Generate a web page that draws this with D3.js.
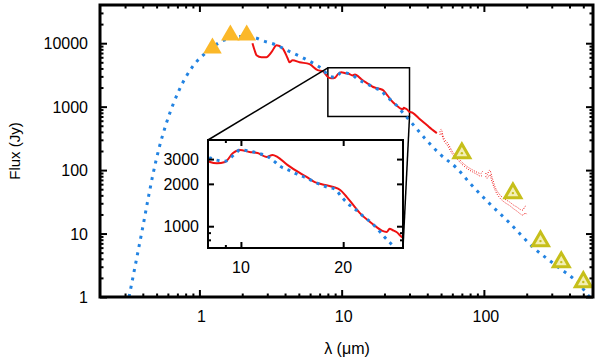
<!DOCTYPE html>
<html>
<head>
<meta charset="utf-8">
<script src="https://cdn.jsdelivr.net/npm/d3@7"></script>
<style>
  body { margin: 0; background: #fff; }
  text { font-family: "Liberation Sans", Arial, sans-serif; fill: #000; }
  .axis path { display: none; }
  .axis line { stroke: #000; stroke-width: 2; }
</style>
</head>
<body>
<svg id="chart"></svg>
<script>
// ---- data ----
// dotted blue model SED (wavelength um, flux Jy)
const modelWave = [0.32, 0.36, 0.40, 0.445, 0.47, 0.52, 0.586, 0.72, 0.89, 1.12, 1.55, 2.0, 2.52, 2.73, 3.49, 4.1, 5.23, 6.67, 7.35,
  8.11, 8.98, 9.6, 9.93, 10.6, 11.2, 11.9, 12.6, 13.0, 13.8, 14.6, 15.6, 16.7, 17.9, 18.9, 19.8, 20.7, 21.7, 22.9, 24.3, 25.7, 26.5, 27.9,
  31.6, 38.4, 49, 64.5, 79.7, 107, 152, 221, 332, 474, 540, 600];
const modelFlux = [1, 3.8, 12.7, 45, 83, 220, 550, 1820, 4190, 7210, 11560, 12800, 12000, 11150, 9300, 7760, 6030, 4500, 3900,
  3056, 2900, 3260, 3480, 3420, 3310, 3160, 2860, 2680, 2510, 2350, 2200, 2030, 1900, 1840, 1610, 1440, 1320, 1180, 1050, 910, 836, 735,
  530, 319, 179, 107, 62.4, 31.3, 14.6, 6.13, 2.97, 1.55, 1.07, 0.85];

// red spectrum (thick part)
const specWave = [2.36, 2.45, 2.52, 2.73, 2.96, 3.21, 3.49, 3.84, 4.17, 4.30, 4.52, 5.06, 5.95, 6.78, 7.35,
  8.11, 8.5, 8.98, 9.48, 9.93, 10.6, 11.2, 11.9, 12.4, 12.8, 13.7, 14.9, 15.6, 16.5, 17.3, 18.7, 19.6, 20.5, 21.4, 22.4,
  24.0, 25.1, 26.0, 26.9, 27.4, 27.9, 28.7, 29.8, 31.6, 35, 39.7, 43, 46.7];
const specFlux = [10000, 7600, 6470, 6020, 6020, 7210, 9300, 8340, 5800, 5020, 5400, 5020, 4670, 3760, 3630,
  2860, 2800, 2860, 3310, 3480, 3370, 3310, 3110, 3210, 3110, 2730, 2390, 2240, 2060, 1990, 1900, 1810, 1610, 1420, 1240,
  1070, 985, 930, 910, 960, 940, 910, 836, 800, 650, 512, 440, 383];

// red noisy far-IR spectra (thin): upper and lower edges of the scatter
const pacsWaveA = [49, 50, 52, 55.7, 60.5, 65, 70, 77, 83.7, 90, 95, 98];
const pacsFluxA = [395, 440, 330, 266, 192, 160, 134, 112, 100, 92, 88, 96];
const pacsFluxA2 = [360, 380, 300, 240, 175, 148, 124, 104, 93, 85, 80, 84];
const pacsWaveB = [103, 105, 108, 110, 114, 120, 130, 140, 152, 162, 171, 180, 188, 195, 200];
const pacsFluxB = [90, 83, 95, 100, 77.6, 54, 40.4, 35, 31.3, 28, 26.1, 24, 23.4, 27, 26];
const pacsFluxB2 = [80, 74, 80, 84, 66, 48, 36, 31, 27.5, 24.5, 22.5, 20.5, 19.5, 21, 20];

// photometry
const nirWave = [1.235, 1.65, 2.15];
const nirFlux = [8340, 13360, 13360];
const firWave = [70, 160, 250, 350, 500];
const firFlux = [185, 43.4, 7.6, 3.55, 1.72];

// ticks
const xTicks = [1, 10, 100];
const yTicks = [1, 10, 100, 1000, 10000];
const insetXTicks = [10, 20];
const insetYTicks = [1000, 2000, 3000];
const zoomWave = [8, 30];
const zoomFlux = [700, 4100];

// ---- layout ----
const w = 600, h = 358;
const mLeft = 100, mRight = 593, mTop = 5, mBottom = 297;
const inL = 208, inR = 403, inT = 140, inB = 248;

const svg = d3.select("#chart").attr("width", w).attr("height", h);

const x = d3.scaleLog().domain([0.2, 585]).range([mLeft, mRight]);
const y = d3.scaleLog().domain([1, 40000]).range([mBottom, mTop]);
const ix = d3.scaleLog().domain(zoomWave).range([inL, inR]);
const iy = d3.scaleLog().domain(zoomFlux).range([inB, inT]);

const defs = svg.append("defs");
defs.append("clipPath").attr("id", "clipMain").append("rect")
  .attr("x", mLeft).attr("y", mTop).attr("width", mRight - mLeft).attr("height", mBottom - mTop);
defs.append("clipPath").attr("id", "clipInset").append("rect")
  .attr("x", inL).attr("y", inT).attr("width", inR - inL).attr("height", inB - inT);

// minor log ticks between lo and hi
function minors(lo, hi) {
  const out = [];
  for (let d = Math.pow(10, Math.floor(Math.log10(lo))); d < hi; d *= 10) {
    for (let k = 2; k <= 9; k++) {
      const v = k * d;
      if (v > lo && v < hi) out.push(v);
    }
  }
  return out;
}

function frameAxes(g, xs, ys, xMaj, yMaj, xMin, yMin, majLen, minLen) {
  const [x0, x1] = xs.range();
  const [y0, y1] = ys.range();
  const sides = [
    [d3.axisBottom, xs, xMaj, xMin, `translate(0,${y0})`],
    [d3.axisTop, xs, xMaj, xMin, `translate(0,${y1})`],
    [d3.axisLeft, ys, yMaj, yMin, `translate(${x0},0)`],
    [d3.axisRight, ys, yMaj, yMin, `translate(${x1},0)`]
  ];
  sides.forEach(([ax, sc, maj, mn, tr]) => {
    g.append("g").attr("class", "axis").attr("transform", tr)
      .call(ax(sc).tickValues(maj).tickSize(-majLen).tickFormat(""));
    g.append("g").attr("class", "axis").attr("transform", tr)
      .call(ax(sc).tickValues(mn).tickSize(-minLen).tickFormat(""));
  });
}

const main = svg.append("g");

// zoom box
main.append("rect")
  .attr("x", x(zoomWave[0])).attr("y", y(zoomFlux[1]))
  .attr("width", x(zoomWave[1]) - x(zoomWave[0]))
  .attr("height", y(zoomFlux[0]) - y(zoomFlux[1]))
  .attr("fill", "none").attr("stroke", "#000").attr("stroke-width", 1.5);

const lineMain = d3.line().x(d => x(d[0])).y(d => y(d[1])).curve(d3.curveMonotoneX);

const plot = main.append("g").attr("clip-path", "url(#clipMain)");

// thin noisy far-IR spectra
[[pacsWaveA, pacsFluxA], [pacsWaveA, pacsFluxA2], [pacsWaveB, pacsFluxB], [pacsWaveB, pacsFluxB2]]
  .forEach(([wv, fl]) => {
    plot.append("path")
      .datum(wv.map((v, i) => [v, fl[i]]))
      .attr("d", lineMain).attr("fill", "none")
      .attr("stroke", "#ee1111").attr("stroke-width", 1).attr("stroke-dasharray", "1 1.5");
  });

plot.append("path")
  .datum(specWave.map((v, i) => [v, specFlux[i]]))
  .attr("d", lineMain).attr("fill", "none")
  .attr("stroke", "#ee1111").attr("stroke-width", 2);

plot.append("path")
  .datum(modelWave.map((v, i) => [v, modelFlux[i]]))
  .attr("d", lineMain).attr("fill", "none")
  .attr("stroke", "#2283e2").attr("stroke-width", 3).attr("stroke-dasharray", "3 5.5");

// photometry
const tri = d3.symbol().type(d3.symbolTriangle);
main.selectAll(".nir").data(nirWave).enter().append("path")
  .attr("transform", (d, i) => `translate(${x(d)},${y(nirFlux[i])})`)
  .attr("d", tri.size(150)()).attr("fill", "#fbb829");

main.selectAll(".fir").data(firWave).enter().append("path")
  .attr("transform", (d, i) => `translate(${x(d)},${y(firFlux[i])})`)
  .attr("d", tri.size(110)()).attr("fill", "#f3efb5")
  .attr("stroke", "#c6bf1a").attr("stroke-width", 3);
main.selectAll(".firdot").data(firWave).enter().append("circle")
  .attr("cx", d => x(d)).attr("cy", (d, i) => y(firFlux[i]))
  .attr("r", 1.2).attr("fill", "#c6bf1a");

// connectors
main.append("line")
  .attr("x1", x(zoomWave[0])).attr("y1", y(zoomFlux[1]))
  .attr("x2", inL).attr("y2", inT)
  .attr("stroke", "#000").attr("stroke-width", 1.5);
main.append("line")
  .attr("x1", x(zoomWave[1])).attr("y1", y(zoomFlux[0]))
  .attr("x2", inR).attr("y2", inB)
  .attr("stroke", "#000").attr("stroke-width", 1.5);

// main axes
frameAxes(main, x, y, xTicks, yTicks, minors(0.2, 585), minors(1, 40000), 7, 3.5);
main.append("rect")
  .attr("x", mLeft).attr("y", mTop).attr("width", mRight - mLeft).attr("height", mBottom - mTop)
  .attr("fill", "none").attr("stroke", "#000").attr("stroke-width", 3);

main.selectAll(".xl").data(xTicks).enter().append("text")
  .attr("x", d => x(d) + 2).attr("y", 322)
  .attr("text-anchor", "middle").style("font-size", "16px")
  .text(d => d);
main.selectAll(".yl").data(yTicks).enter().append("text")
  .attr("x", 88).attr("y", d => y(d) + 6)
  .attr("text-anchor", "end").style("font-size", "16px")
  .text(d => d);

main.append("text")
  .attr("transform", `translate(20,${(mTop + mBottom) / 2}) rotate(-90)`)
  .attr("text-anchor", "middle").style("font-size", "15px")
  .text("Flux (Jy)");
main.append("text")
  .attr("x", 347).attr("y", 354)
  .attr("text-anchor", "middle").style("font-size", "16px")
  .text("λ (μm)");

// ---- inset ----
const inset = svg.append("g");
inset.append("rect")
  .attr("x", inL).attr("y", inT).attr("width", inR - inL).attr("height", inB - inT)
  .attr("fill", "#fff");

const lineInset = d3.line().x(d => ix(d[0])).y(d => iy(d[1])).curve(d3.curveMonotoneX);
const ip = inset.append("g").attr("clip-path", "url(#clipInset)");
ip.append("path")
  .datum(specWave.map((v, i) => [v, specFlux[i]]))
  .attr("d", lineInset).attr("fill", "none")
  .attr("stroke", "#ee1111").attr("stroke-width", 2);
ip.append("path")
  .datum(modelWave.map((v, i) => [v, modelFlux[i]]))
  .attr("d", lineInset).attr("fill", "none")
  .attr("stroke", "#2283e2").attr("stroke-width", 3).attr("stroke-dasharray", "3 5");

frameAxes(inset, ix, iy, insetXTicks, insetYTicks, [9], [800, 900], 6, 3);
inset.append("rect")
  .attr("x", inL).attr("y", inT).attr("width", inR - inL).attr("height", inB - inT)
  .attr("fill", "none").attr("stroke", "#000").attr("stroke-width", 2);

inset.selectAll(".ixl").data(insetXTicks).enter().append("text")
  .attr("x", d => ix(d)).attr("y", 273)
  .attr("text-anchor", "middle").style("font-size", "16px")
  .text(d => d);
inset.selectAll(".iyl").data(insetYTicks).enter().append("text")
  .attr("x", 199).attr("y", d => iy(d) + 6)
  .attr("text-anchor", "end").style("font-size", "16px")
  .text(d => d);
</script>
</body>
</html>
